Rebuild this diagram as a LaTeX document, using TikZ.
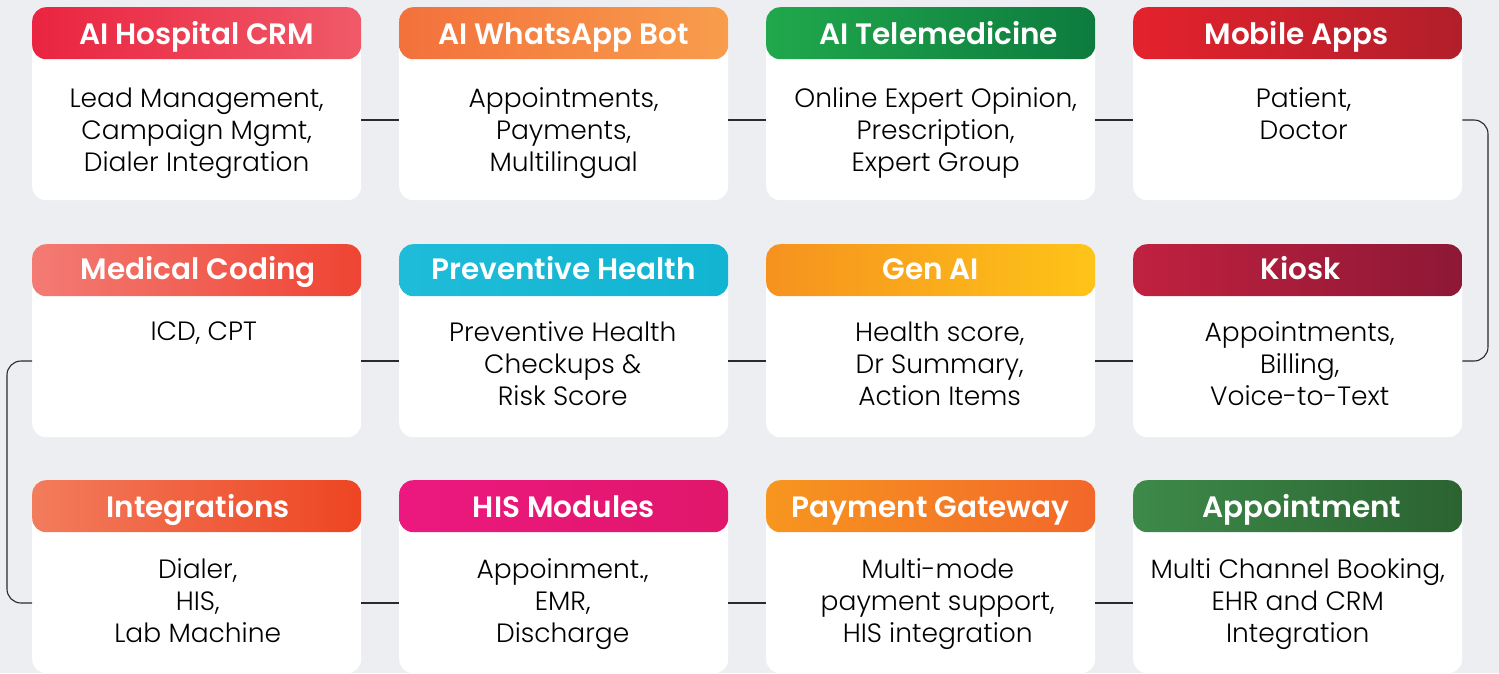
\documentclass[tikz,border=0pt]{standalone}
\usepackage{fontspec}
\setmainfont{Poppins Light}[BoldFont={Poppins SemiBold}]
\usetikzlibrary{calc}
\definecolor{bgc}{HTML}{ECEEF2}
\definecolor{linec}{HTML}{2A2A2A}
\definecolor{aL}{HTML}{EA2441}\definecolor{aR}{HTML}{F05A68}
\definecolor{bL}{HTML}{F3713C}\definecolor{bR}{HTML}{F89D4C}
\definecolor{cL}{HTML}{20A84C}\definecolor{cR}{HTML}{0D7B3E}
\definecolor{dL}{HTML}{E4222D}\definecolor{dR}{HTML}{B11F2A}
\definecolor{eL}{HTML}{F37B74}\definecolor{eR}{HTML}{EF4433}
\definecolor{fL}{HTML}{1FBCD9}\definecolor{fR}{HTML}{11B4D1}
\definecolor{gL}{HTML}{F6921F}\definecolor{gR}{HTML}{FEC418}
\definecolor{hL}{HTML}{C0213F}\definecolor{hR}{HTML}{8D1836}
\definecolor{iL}{HTML}{F27C5C}\definecolor{iR}{HTML}{EE4523}
\definecolor{jL}{HTML}{EC187F}\definecolor{jR}{HTML}{E0176B}
\definecolor{kL}{HTML}{F7961F}\definecolor{kR}{HTML}{F2672A}
\definecolor{lL}{HTML}{3D8A49}\definecolor{lR}{HTML}{2B6331}
\tikzset{
  card/.style n args={2}{draw=none, fill=white, rounded corners=14pt,
    minimum width=329pt, minimum height=193pt, inner sep=0pt, anchor=north west,
    path picture={\shade[left color=#1, right color=#2]
      (path picture bounding box.north west) rectangle
      ([yshift=-52pt]path picture bounding box.north east);}},
  head/.style={text=white, font=\fontsize{29.5}{32}\selectfont\bfseries, anchor=base, inner sep=0pt},
  body/.style={text=black, font=\fontsize{26.5}{32}\selectfont, align=center, anchor=north, inner sep=0pt},
  conn/.style={draw=linec, line width=1.1pt},
}
\begin{document}
\begin{tikzpicture}[x=1pt,y=-1pt]
\fill[bgc] (0,0) rectangle (1499,673);
\useasboundingbox (0,0) rectangle (1499,673);
% row tops: 7, 244, 480 ; column lefts: 32, 399, 766, 1133
\node[card={aL}{aR}] (c11) at (32,7) {};
\node[card={bL}{bR}] (c12) at (399,7) {};
\node[card={cL}{cR}] (c13) at (766,7) {};
\node[card={dL}{dR}] (c14) at (1133,7) {};
\node[card={eL}{eR}] (c21) at (32,244) {};
\node[card={fL}{fR}] (c22) at (399,244) {};
\node[card={gL}{gR}] (c23) at (766,244) {};
\node[card={hL}{hR}] (c24) at (1133,244) {};
\node[card={iL}{iR}] (c31) at (32,480) {};
\node[card={jL}{jR}] (c32) at (399,480) {};
\node[card={kL}{kR}] (c33) at (766,480) {};
\node[card={lL}{lR}] (c34) at (1133,480) {};
% headers
\node[head] (h11) at ($(c11.north)+(0,37)$) {AI Hospital CRM};
\node[head] (h12) at ($(c12.north)+(0,37)$) {AI WhatsApp Bot};
\node[head] (h13) at ($(c13.north)+(8,37)$) {AI Telemedicine};
\node[head] (h14) at ($(c14.north)+(-1,37)$) {Mobile Apps};
\node[head] (h21) at ($(c21.north)+(1.5,35)$) {Medical Coding};
\node[head] (h22) at ($(c22.north)+(0,35)$) {Preventive Health};
\node[head] (h23) at ($(c23.north)+(0,35)$) {Gen AI};
\node[head] (h24) at ($(c24.north)+(3,35)$) {Kiosk};
\node[head] (h31) at ($(c31.north)+(1.5,37)$) {Integrations};
\node[head] (h32) at ($(c32.north)+(0,37)$) {HIS Modules};
\node[head] (h33) at ($(c33.north)+(0,37)$) {Payment Gateway};
\node[head] (h34) at ($(c34.north)+(4,37)$) {Appointment};
% bodies
\node[body] (b11) at ($(c11.north)+(0,80.5)$) {Lead Management,\\Campaign Mgmt,\\Dialer Integration};
\node[body] (b12) at ($(c12.north)+(0,80.5)$) {Appointments,\\Payments,\\Multilingual};
\node[body] (b13) at ($(c13.north)+(5,80.5)$) {Online Expert Opinion,\\Prescription,\\Expert Group};
\node[body] (b14) at ($(c14.north)+(6,80.5)$) {Patient,\\Doctor};
\node[body] (b21) at ($(c21.north)+(7,77.5)$) {ICD, CPT};
\node[body] (b22) at ($(c22.north)+(-1,77.5)$) {Preventive Health\\Checkups \&\\Risk Score};
\node[body] (b23) at ($(c23.north)+(9,77.5)$) {Health score,\\Dr Summary,\\Action Items};
\node[body] (b24) at ($(c24.north)+(2,77.5)$) {Appointments,\\Billing,\\Voice-to-Text};
\node[body] (b31) at ($(c31.north)+(1,78.5)$) {Dialer,\\HIS,\\Lab Machine};
\node[body] (b32) at ($(c32.north)+(-1,78.5)$) {Appoinment.,\\EMR,\\Discharge};
\node[body] (b33) at ($(c33.north)+(7,78.5)$) {Multi-mode\\payment support,\\HIS integration};
\node[body] (b34) at ($(c34.north)+(0,78.5)$) {Multi Channel Booking,\\EHR and CRM\\Integration};
% connectors
\draw[conn] (c11.east |- 0,120) -- (c12.west |- 0,120);
\draw[conn] (c12.east |- 0,120) -- (c13.west |- 0,120);
\draw[conn] (c13.east |- 0,120) -- (c14.west |- 0,120);
\draw[conn, rounded corners=14pt] (c14.east |- 0,120) -- (1488,120) -- (1488,361) -- (c24.east |- 0,361);
\draw[conn] (c24.west |- 0,361) -- (c23.east |- 0,361);
\draw[conn] (c23.west |- 0,361) -- (c22.east |- 0,361);
\draw[conn] (c22.west |- 0,361) -- (c21.east |- 0,361);
\draw[conn, rounded corners=14pt] (c21.west |- 0,361) -- (7,361) -- (7,603) -- (c31.west |- 0,603);
\draw[conn] (c31.east |- 0,603) -- (c32.west |- 0,603);
\draw[conn] (c32.east |- 0,603) -- (c33.west |- 0,603);
\draw[conn] (c33.east |- 0,603) -- (c34.west |- 0,603);
\end{tikzpicture}
\end{document}
